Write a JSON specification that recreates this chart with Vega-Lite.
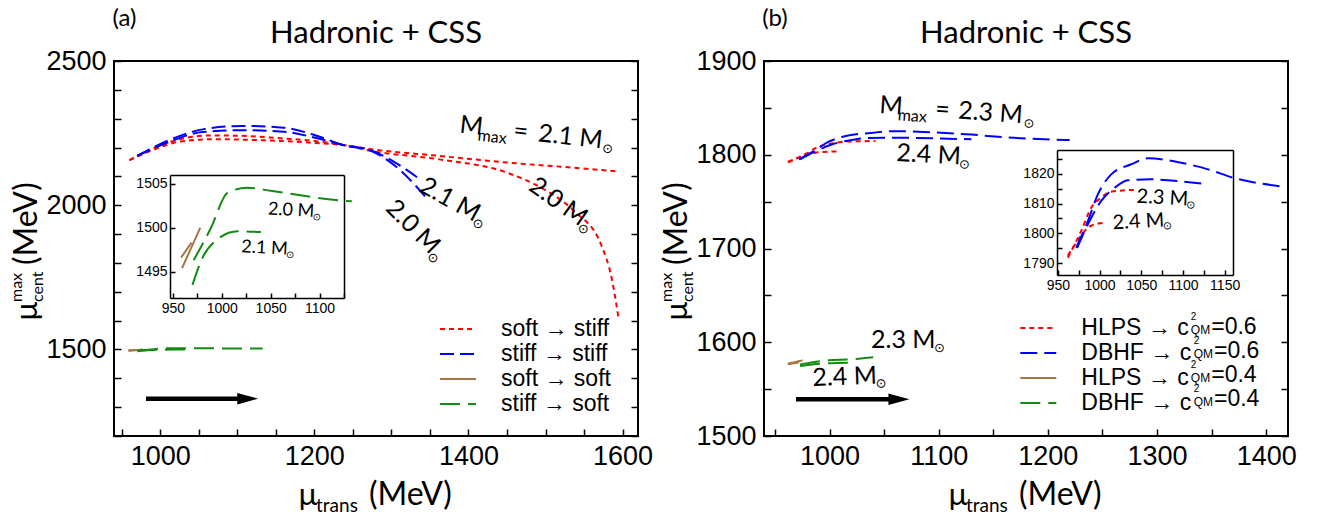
{
  "$schema": "https://vega.github.io/schema/vega-lite/v6.json",
  "background": "white",
  "padding": {"left": 8, "top": 6, "right": 5, "bottom": 5},
  "config": {
    "view": {"stroke": "black", "strokeWidth": 2},
    "axis": {"grid": false, "labelFont": "Liberation Sans", "labelColor": "black", "tickColor": "black", "domainColor": "black", "tickWidth": 1.5, "domainWidth": 1.5, "labelFlush": false, "labelOverlap": false},
    "legend": {"labelFont": "Liberation Sans", "labelColor": "black"}
  },
  "datasets": {
    "a": [
      {"s": "soft → stiff", "m": "2.0", "x": 960, "y": 2156},
      {"s": "soft → stiff", "m": "2.0", "x": 993, "y": 2200},
      {"s": "soft → stiff", "m": "2.0", "x": 1024, "y": 2228},
      {"s": "soft → stiff", "m": "2.0", "x": 1068, "y": 2242},
      {"s": "soft → stiff", "m": "2.0", "x": 1112, "y": 2240},
      {"s": "soft → stiff", "m": "2.0", "x": 1156, "y": 2232},
      {"s": "soft → stiff", "m": "2.0", "x": 1200, "y": 2223},
      {"s": "soft → stiff", "m": "2.0", "x": 1237, "y": 2209},
      {"s": "soft → stiff", "m": "2.0", "x": 1274, "y": 2188},
      {"s": "soft → stiff", "m": "2.0", "x": 1362, "y": 2159},
      {"s": "soft → stiff", "m": "2.0", "x": 1450, "y": 2113},
      {"s": "soft → stiff", "m": "2.0", "x": 1494, "y": 2061},
      {"s": "soft → stiff", "m": "2.0", "x": 1537, "y": 1980},
      {"s": "soft → stiff", "m": "2.0", "x": 1572, "y": 1864},
      {"s": "soft → stiff", "m": "2.0", "x": 1586, "y": 1745},
      {"s": "soft → stiff", "m": "2.0", "x": 1595, "y": 1604},
      {"s": "soft → stiff", "m": "2.1", "x": 960, "y": 2156},
      {"s": "soft → stiff", "m": "2.1", "x": 993, "y": 2194},
      {"s": "soft → stiff", "m": "2.1", "x": 1024, "y": 2220},
      {"s": "soft → stiff", "m": "2.1", "x": 1068, "y": 2229},
      {"s": "soft → stiff", "m": "2.1", "x": 1112, "y": 2227},
      {"s": "soft → stiff", "m": "2.1", "x": 1156, "y": 2223},
      {"s": "soft → stiff", "m": "2.1", "x": 1200, "y": 2216},
      {"s": "soft → stiff", "m": "2.1", "x": 1237, "y": 2209},
      {"s": "soft → stiff", "m": "2.1", "x": 1274, "y": 2194},
      {"s": "soft → stiff", "m": "2.1", "x": 1362, "y": 2171},
      {"s": "soft → stiff", "m": "2.1", "x": 1450, "y": 2148},
      {"s": "soft → stiff", "m": "2.1", "x": 1537, "y": 2130},
      {"s": "soft → stiff", "m": "2.1", "x": 1595, "y": 2117},
      {"s": "stiff → stiff", "m": "2.0", "x": 970, "y": 2171},
      {"s": "stiff → stiff", "m": "2.0", "x": 1011, "y": 2225},
      {"s": "stiff → stiff", "m": "2.0", "x": 1055, "y": 2263},
      {"s": "stiff → stiff", "m": "2.0", "x": 1107, "y": 2275},
      {"s": "stiff → stiff", "m": "2.0", "x": 1160, "y": 2269},
      {"s": "stiff → stiff", "m": "2.0", "x": 1204, "y": 2240},
      {"s": "stiff → stiff", "m": "2.0", "x": 1237, "y": 2209},
      {"s": "stiff → stiff", "m": "2.0", "x": 1274, "y": 2188},
      {"s": "stiff → stiff", "m": "2.0", "x": 1305, "y": 2136},
      {"s": "stiff → stiff", "m": "2.0", "x": 1344, "y": 2030},
      {"s": "stiff → stiff", "m": "2.1", "x": 970, "y": 2171},
      {"s": "stiff → stiff", "m": "2.1", "x": 1011, "y": 2219},
      {"s": "stiff → stiff", "m": "2.1", "x": 1055, "y": 2254},
      {"s": "stiff → stiff", "m": "2.1", "x": 1107, "y": 2260},
      {"s": "stiff → stiff", "m": "2.1", "x": 1160, "y": 2255},
      {"s": "stiff → stiff", "m": "2.1", "x": 1204, "y": 2232},
      {"s": "stiff → stiff", "m": "2.1", "x": 1237, "y": 2209},
      {"s": "stiff → stiff", "m": "2.1", "x": 1274, "y": 2190},
      {"s": "stiff → stiff", "m": "2.1", "x": 1305, "y": 2148},
      {"s": "stiff → stiff", "m": "2.1", "x": 1338, "y": 2088},
      {"s": "soft → soft", "m": "2.0", "x": 959.3, "y": 1495.4},
      {"s": "soft → soft", "m": "2.0", "x": 978, "y": 1500},
      {"s": "soft → soft", "m": "2.1", "x": 958.3, "y": 1496.6},
      {"s": "soft → soft", "m": "2.1", "x": 969, "y": 1498.3},
      {"s": "stiff → soft", "m": "2.0", "x": 971.2, "y": 1496.3},
      {"s": "stiff → soft", "m": "2.0", "x": 989, "y": 1500},
      {"s": "stiff → soft", "m": "2.0", "x": 1006, "y": 1504},
      {"s": "stiff → soft", "m": "2.0", "x": 1026, "y": 1504.55},
      {"s": "stiff → soft", "m": "2.0", "x": 1050, "y": 1504.2},
      {"s": "stiff → soft", "m": "2.0", "x": 1074, "y": 1503.8},
      {"s": "stiff → soft", "m": "2.0", "x": 1098, "y": 1503.4},
      {"s": "stiff → soft", "m": "2.0", "x": 1122, "y": 1503.1},
      {"s": "stiff → soft", "m": "2.0", "x": 1133, "y": 1503},
      {"s": "stiff → soft", "m": "2.1", "x": 970, "y": 1493.5},
      {"s": "stiff → soft", "m": "2.1", "x": 980.3, "y": 1496.6},
      {"s": "stiff → soft", "m": "2.1", "x": 995.8, "y": 1498.7},
      {"s": "stiff → soft", "m": "2.1", "x": 1016.2, "y": 1499.6},
      {"s": "stiff → soft", "m": "2.1", "x": 1040, "y": 1499.5}
    ],
    "b": [
      {"s": "HLPS 0.6", "m": "2.3", "x": 962, "y": 1791.8},
      {"s": "HLPS 0.6", "m": "2.3", "x": 978, "y": 1800.8},
      {"s": "HLPS 0.6", "m": "2.3", "x": 990, "y": 1808.6},
      {"s": "HLPS 0.6", "m": "2.3", "x": 1002, "y": 1812},
      {"s": "HLPS 0.6", "m": "2.3", "x": 1014, "y": 1814},
      {"s": "HLPS 0.6", "m": "2.3", "x": 1042, "y": 1814.6},
      {"s": "HLPS 0.6", "m": "2.4", "x": 962, "y": 1792.5},
      {"s": "HLPS 0.6", "m": "2.4", "x": 976, "y": 1798.5},
      {"s": "HLPS 0.6", "m": "2.4", "x": 986, "y": 1801.9},
      {"s": "HLPS 0.6", "m": "2.4", "x": 994, "y": 1803},
      {"s": "HLPS 0.6", "m": "2.4", "x": 1008, "y": 1803.6},
      {"s": "DBHF 0.6", "m": "2.3", "x": 972, "y": 1795.2},
      {"s": "DBHF 0.6", "m": "2.3", "x": 986, "y": 1804.1},
      {"s": "DBHF 0.6", "m": "2.3", "x": 998, "y": 1813.1},
      {"s": "DBHF 0.6", "m": "2.3", "x": 1014, "y": 1819.8},
      {"s": "DBHF 0.6", "m": "2.3", "x": 1038, "y": 1823.2},
      {"s": "DBHF 0.6", "m": "2.3", "x": 1058, "y": 1825.2},
      {"s": "DBHF 0.6", "m": "2.3", "x": 1098, "y": 1823.7},
      {"s": "DBHF 0.6", "m": "2.3", "x": 1130, "y": 1821.5},
      {"s": "DBHF 0.6", "m": "2.3", "x": 1160, "y": 1818.7},
      {"s": "DBHF 0.6", "m": "2.3", "x": 1220, "y": 1815.7},
      {"s": "DBHF 0.6", "m": "2.4", "x": 973, "y": 1795},
      {"s": "DBHF 0.6", "m": "2.4", "x": 986, "y": 1803},
      {"s": "DBHF 0.6", "m": "2.4", "x": 1002, "y": 1810.9},
      {"s": "DBHF 0.6", "m": "2.4", "x": 1018, "y": 1815.3},
      {"s": "DBHF 0.6", "m": "2.4", "x": 1034, "y": 1817.8},
      {"s": "DBHF 0.6", "m": "2.4", "x": 1062, "y": 1818.2},
      {"s": "DBHF 0.6", "m": "2.4", "x": 1078, "y": 1817.9},
      {"s": "DBHF 0.6", "m": "2.4", "x": 1130, "y": 1816.5},
      {"s": "HLPS 0.4", "m": "2.3", "x": 961.7, "y": 1577.1},
      {"s": "HLPS 0.4", "m": "2.3", "x": 975.4, "y": 1580.7},
      {"s": "HLPS 0.4", "m": "2.4", "x": 962, "y": 1576.5},
      {"s": "HLPS 0.4", "m": "2.4", "x": 972, "y": 1578.5},
      {"s": "DBHF 0.4", "m": "2.3", "x": 973, "y": 1576.4},
      {"s": "DBHF 0.4", "m": "2.3", "x": 998, "y": 1580.7},
      {"s": "DBHF 0.4", "m": "2.3", "x": 1020, "y": 1581.8},
      {"s": "DBHF 0.4", "m": "2.3", "x": 1040, "y": 1584},
      {"s": "DBHF 0.4", "m": "2.4", "x": 973, "y": 1574.7},
      {"s": "DBHF 0.4", "m": "2.4", "x": 998, "y": 1577.5},
      {"s": "DBHF 0.4", "m": "2.4", "x": 1020, "y": 1578.2}
    ]
  },
  "bounds": "flush",
  "spacing": 126,
  "resolve": {
    "scale": {"color": "independent", "strokeDash": "independent", "strokeWidth": "independent"},
    "legend": {"color": "independent", "strokeDash": "independent", "strokeWidth": "independent"}
  },
  "hconcat": [
    {
      "width": 524,
      "height": 375,
      "resolve": {"scale": {"x": "independent", "y": "independent"}},
      "layer": [
        {
          "data": {"values": [{}]},
          "resolve": {"axis": {"x": "independent", "y": "independent"}},
          "layer": [
            {
              "data": {"name": "a"},
              "mark": {"type": "line", "interpolate": "monotone"},
              "encoding": {
                "x": {"field": "x", "type": "quantitative", "scale": {"domain": [940, 1620], "nice": false, "zero": false},
                  "axis": {"orient": "bottom", "title": null, "values": [1000, 1200, 1400, 1600], "format": "d", "labelOverlap": false, "tickSize": -7, "labelPadding": 14, "labelFontSize": 27, "domain": false}},
                "y": {"field": "y", "type": "quantitative", "scale": {"domain": [1200, 2500], "nice": false, "zero": false},
                  "axis": {"orient": "left", "title": null, "values": [1200, 1300, 1400, 1500, 1600, 1700, 1800, 1900, 2000, 2100, 2200, 2300, 2400, 2500], "format": "d", "labelExpr": "datum.value % 500 === 0 ? datum.label : ''", "labelOverlap": false, "tickSize": -7, "labelPadding": 15, "labelFontSize": 27, "domain": false}},
                "color": {"field": "s", "type": "nominal",
                  "scale": {"domain": ["soft → stiff", "stiff → stiff", "soft → soft", "stiff → soft"], "range": ["#ff0000", "#0000ff", "#a57647", "#118b11"]},
                  "legend": {"orient": "none", "legendX": 331, "legendY": 255, "title": null, "symbolType": "M-1.5,0H1.5", "symbolSize": 576, "labelFontSize": 23, "labelOffset": 30, "padding": 0, "rowPadding": 0}},
                "strokeDash": {"field": "s", "type": "nominal",
                  "scale": {"domain": ["soft → stiff", "stiff → stiff", "soft → soft", "stiff → soft"], "range": [[5, 4], [14, 6], [1, 0], [20, 8]]}},
                "strokeWidth": {"field": "s", "type": "ordinal",
                  "scale": {"domain": ["soft → stiff", "stiff → stiff", "soft → soft", "stiff → soft"], "range": [2, 2, 3.5, 2.5]}},
                "detail": {"field": "m"}
              }
            },
            {
              "mark": {"type": "rule", "strokeWidth": 4.5, "color": "black"},
              "encoding": {
                "x": {"datum": 981.5, "axis": {"orient": "bottom", "title": null, "values": [950, 1050, 1100, 1150, 1250, 1300, 1350, 1450, 1500, 1550], "labels": false, "tickSize": -7, "domain": false}},
                "x2": {"datum": 1113.6},
                "y": {"datum": 1329.4, "axis": {"orient": "right", "title": null, "values": [1200, 1300, 1400, 1500, 1600, 1700, 1800, 1900, 2000, 2100, 2200, 2300, 2400, 2500], "labels": false, "tickSize": -7, "domain": false}}
              }
            },
            {
              "mark": {"type": "point", "shape": "M-1,-0.55L1,0L-1,0.55Z", "size": 441, "filled": true, "color": "black", "opacity": 1},
              "encoding": {"x": {"datum": 1113.6, "axis": null}, "y": {"datum": 1329.4, "axis": null}}
            },
            {"mark": {"type": "text", "text": "Hadronic + CSS", "font": "Lato", "fontSize": 31, "align": "center", "baseline": "alphabetic", "color": "black"},
             "encoding": {"x": {"datum": 1280, "axis": null}, "y": {"datum": 2562.4, "axis": null}}},
            {"mark": {"type": "text", "text": "(a)", "font": "Lato", "fontSize": 24, "align": "center", "baseline": "alphabetic", "color": "black"},
             "encoding": {"x": {"datum": 953.5, "axis": null}, "y": {"datum": 2621.3, "axis": null}}},
            {"mark": {"type": "text", "text": "µ", "font": "Lato", "fontSize": 31, "align": "left", "baseline": "alphabetic", "color": "black"},
             "encoding": {"x": {"datum": 1178.8, "axis": null}, "y": {"datum": 960.8, "axis": null}}},
            {"mark": {"type": "text", "text": "trans", "font": "Lato", "fontSize": 19, "align": "left", "baseline": "alphabetic", "dx": 18, "dy": 7, "color": "black"},
             "encoding": {"x": {"datum": 1178.8, "axis": null}, "y": {"datum": 960.8, "axis": null}}},
            {"mark": {"type": "text", "text": "(MeV)", "font": "Lato", "fontSize": 32, "align": "left", "baseline": "alphabetic", "dx": 71, "color": "black"},
             "encoding": {"x": {"datum": 1178.8, "axis": null}, "y": {"datum": 960.8, "axis": null}}},
            {"mark": {"type": "text", "text": "µ", "font": "Lato", "fontSize": 31, "align": "left", "baseline": "alphabetic", "angle": 270, "color": "black"},
             "encoding": {"x": {"datum": 840.1, "axis": null}, "y": {"datum": 1598.7, "axis": null}}},
            {"mark": {"type": "text", "text": "cent", "font": "Lato", "fontSize": 16, "align": "left", "baseline": "alphabetic", "angle": 270, "dx": 19, "dy": 6, "color": "black"},
             "encoding": {"x": {"datum": 840.1, "axis": null}, "y": {"datum": 1598.7, "axis": null}}},
            {"mark": {"type": "text", "text": "max", "font": "Lato", "fontSize": 16, "align": "left", "baseline": "alphabetic", "angle": 270, "dx": 19, "dy": -15, "color": "black"},
             "encoding": {"x": {"datum": 840.1, "axis": null}, "y": {"datum": 1598.7, "axis": null}}},
            {"mark": {"type": "text", "text": "(MeV)", "font": "Lato", "fontSize": 32, "align": "left", "baseline": "alphabetic", "angle": 270, "dx": 56, "color": "black"},
             "encoding": {"x": {"datum": 840.1, "axis": null}, "y": {"datum": 1598.7, "axis": null}}},
            {"mark": {"type": "text", "text": "M", "font": "Lato", "fontSize": 25, "align": "left", "baseline": "alphabetic", "angle": 6.3, "color": "black"},
             "encoding": {"x": {"datum": 1387.7, "axis": null}, "y": {"datum": 2252, "axis": null}}},
            {"mark": {"type": "text", "text": "max", "font": "Lato", "fontSize": 16, "align": "left", "baseline": "alphabetic", "angle": 6.3, "dx": 19, "dy": 6, "color": "black"},
             "encoding": {"x": {"datum": 1387.7, "axis": null}, "y": {"datum": 2252, "axis": null}}},
            {"mark": {"type": "text", "text": "=", "font": "Lato", "fontSize": 25, "align": "left", "baseline": "alphabetic", "angle": 6.3, "dx": 54, "color": "black"},
             "encoding": {"x": {"datum": 1387.7, "axis": null}, "y": {"datum": 2252, "axis": null}}},
            {"mark": {"type": "text", "text": "2.1 M", "font": "Lato", "fontSize": 25, "align": "left", "baseline": "alphabetic", "angle": 6.3, "dx": 79, "color": "black"},
             "encoding": {"x": {"datum": 1387.7, "axis": null}, "y": {"datum": 2252, "axis": null}}},
            {"mark": {"type": "text", "text": "⊙", "font": "DejaVu Sans", "fontSize": 13, "align": "left", "baseline": "alphabetic", "angle": 6.3, "dx": 144, "dy": 4, "color": "black"},
             "encoding": {"x": {"datum": 1387.7, "axis": null}, "y": {"datum": 2252, "axis": null}}},
            {"mark": {"type": "text", "text": "2.1 M", "font": "Lato", "fontSize": 25, "align": "left", "baseline": "alphabetic", "angle": 29, "color": "black"},
             "encoding": {"x": {"datum": 1334.5, "axis": null}, "y": {"datum": 2050, "axis": null}}},
            {"mark": {"type": "text", "text": "⊙", "font": "DejaVu Sans", "fontSize": 13, "align": "left", "baseline": "alphabetic", "angle": 29, "dx": 63, "dy": 4, "color": "black"},
             "encoding": {"x": {"datum": 1334.5, "axis": null}, "y": {"datum": 2050, "axis": null}}},
            {"mark": {"type": "text", "text": "2.0 M", "font": "Lato", "fontSize": 25, "align": "left", "baseline": "alphabetic", "angle": 45, "color": "black"},
             "encoding": {"x": {"datum": 1291, "axis": null}, "y": {"datum": 1985, "axis": null}}},
            {"mark": {"type": "text", "text": "⊙", "font": "DejaVu Sans", "fontSize": 13, "align": "left", "baseline": "alphabetic", "angle": 45, "dx": 63, "dy": 4, "color": "black"},
             "encoding": {"x": {"datum": 1291, "axis": null}, "y": {"datum": 1985, "axis": null}}},
            {"mark": {"type": "text", "text": "2.0 M", "font": "Lato", "fontSize": 25, "align": "left", "baseline": "alphabetic", "angle": 35.5, "color": "black"},
             "encoding": {"x": {"datum": 1476.5, "axis": null}, "y": {"datum": 2055, "axis": null}}},
            {"mark": {"type": "text", "text": "⊙", "font": "DejaVu Sans", "fontSize": 13, "align": "left", "baseline": "alphabetic", "angle": 35.5, "dx": 63, "dy": 4, "color": "black"},
             "encoding": {"x": {"datum": 1476.5, "axis": null}, "y": {"datum": 2055, "axis": null}}}
          ]
        },
        {
          "data": {"name": "a"},
          "transform": [{"filter": "datum.y < 1600"}],
          "resolve": {"axis": {"x": "independent", "y": "independent"}},
          "layer": [
            {
              "mark": {"type": "line", "interpolate": "monotone", "clip": true},
              "encoding": {
                "x": {"field": "x", "type": "quantitative", "scale": {"domain": [947, 1125], "range": [56, 230], "nice": false, "zero": false},
                  "axis": {"orient": "bottom", "offset": -138, "title": null, "values": [950, 975, 1000, 1025, 1050, 1075, 1100, 1125], "format": "d", "labelExpr": "datum.value % 50 === 0 ? datum.label : ''", "labelOverlap": false, "tickSize": -5, "labelPadding": 8, "labelFontSize": 14}},
                "y": {"field": "y", "type": "quantitative", "scale": {"domain": [1492, 1506], "range": [237, 114], "nice": false, "zero": false},
                  "axis": {"orient": "left", "offset": -56, "title": null, "values": [1495, 1500, 1505], "format": "d", "labelOverlap": false, "tickSize": -5, "labelPadding": 8, "labelFontSize": 14}},
                "color": {"field": "s", "type": "nominal", "legend": null},
                "strokeDash": {"field": "s", "type": "nominal", "legend": null},
                "strokeWidth": {"field": "s", "type": "ordinal", "legend": null},
                "detail": {"field": "m"}
              }
            },
            {"data": {"values": [{}]},
             "mark": {"type": "text", "text": "2.0 M", "font": "Lato", "fontSize": 18, "align": "left", "baseline": "alphabetic", "angle": 3, "color": "black"},
             "encoding": {
               "x": {"datum": 1046.9, "axis": {"orient": "top", "offset": -114, "title": null, "ticks": false, "labels": false}},
               "y": {"datum": 1501.5, "axis": {"orient": "right", "offset": -294, "title": null, "ticks": false, "labels": false}}}},
            {"data": {"values": [{}]},
             "mark": {"type": "text", "text": "⊙", "font": "DejaVu Sans", "fontSize": 10, "align": "left", "baseline": "alphabetic", "angle": 3, "dx": 45, "dy": 3, "color": "black"},
             "encoding": {"x": {"datum": 1046.9, "axis": null}, "y": {"datum": 1501.5, "axis": null}}},
            {"data": {"values": [{}]},
             "mark": {"type": "text", "text": "2.1 M", "font": "Lato", "fontSize": 18, "align": "left", "baseline": "alphabetic", "angle": 3, "color": "black"},
             "encoding": {"x": {"datum": 1019.6, "axis": null}, "y": {"datum": 1497.2, "axis": null}}},
            {"data": {"values": [{}]},
             "mark": {"type": "text", "text": "⊙", "font": "DejaVu Sans", "fontSize": 10, "align": "left", "baseline": "alphabetic", "angle": 3, "dx": 45, "dy": 3, "color": "black"},
             "encoding": {"x": {"datum": 1019.6, "axis": null}, "y": {"datum": 1497.2, "axis": null}}}
          ]
        }
      ]
    },
    {
      "width": 524,
      "height": 375,
      "resolve": {"scale": {"x": "independent", "y": "independent"}},
      "layer": [
        {
          "data": {"values": [{}]},
          "resolve": {"axis": {"x": "independent", "y": "independent"}},
          "layer": [
            {
              "data": {"name": "b"},
              "mark": {"type": "line", "interpolate": "monotone"},
              "encoding": {
                "x": {"field": "x", "type": "quantitative", "scale": {"domain": [940, 1420], "nice": false, "zero": false},
                  "axis": {"orient": "bottom", "title": null, "values": [1000, 1100, 1200, 1300, 1400], "format": "d", "labelOverlap": false, "tickSize": -7, "labelPadding": 14, "labelFontSize": 27, "domain": false}},
                "y": {"field": "y", "type": "quantitative", "scale": {"domain": [1500, 1900], "nice": false, "zero": false},
                  "axis": {"orient": "left", "title": null, "values": [1500, 1550, 1600, 1650, 1700, 1750, 1800, 1850, 1900], "format": "d", "labelExpr": "datum.value % 100 === 0 ? datum.label : ''", "labelOverlap": false, "tickSize": -7, "labelPadding": 15, "labelFontSize": 27, "domain": false}},
                "color": {"field": "s", "type": "nominal",
                  "scale": {"domain": ["HLPS 0.6", "DBHF 0.6", "HLPS 0.4", "DBHF 0.4"], "range": ["#ff0000", "#0000ff", "#a57647", "#118b11"]},
                  "legend": {"orient": "none", "legendX": 261.3, "legendY": 254, "title": null, "symbolType": "M-1.5,0H1.5", "symbolSize": 576, "labelFontSize": 23, "labelOffset": 30, "padding": 0, "rowPadding": 0, "labelExpr": "slice(datum.label, 0, 4) + ' → c'"}},
                "strokeDash": {"field": "s", "type": "nominal",
                  "scale": {"domain": ["HLPS 0.6", "DBHF 0.6", "HLPS 0.4", "DBHF 0.4"], "range": [[5, 4], [17, 7], [1, 0], [20, 8]]}},
                "strokeWidth": {"field": "s", "type": "ordinal",
                  "scale": {"domain": ["HLPS 0.6", "DBHF 0.6", "HLPS 0.4", "DBHF 0.4"], "range": [2, 2, 3.5, 2.5]}},
                "detail": {"field": "m"}
              }
            },
            {
              "mark": {"type": "rule", "strokeWidth": 4.5, "color": "black"},
              "encoding": {
                "x": {"datum": 969.3, "axis": {"orient": "bottom", "title": null, "values": [950, 1050, 1150, 1250, 1350], "labels": false, "tickSize": -7, "domain": false}},
                "x2": {"datum": 1063.6},
                "y": {"datum": 1539.1, "axis": {"orient": "right", "title": null, "values": [1500, 1550, 1600, 1650, 1700, 1750, 1800, 1850, 1900], "labels": false, "tickSize": -7, "domain": false}}
              }
            },
            {
              "mark": {"type": "point", "shape": "M-1,-0.55L1,0L-1,0.55Z", "size": 441, "filled": true, "color": "black", "opacity": 1},
              "encoding": {"x": {"datum": 1063.6, "axis": null}, "y": {"datum": 1539.1, "axis": null}}
            },
            {"mark": {"type": "text", "text": "Hadronic + CSS", "font": "Lato", "fontSize": 31, "align": "center", "baseline": "alphabetic", "color": "black"},
             "encoding": {"x": {"datum": 1180, "axis": null}, "y": {"datum": 1919.2, "axis": null}}},
            {"mark": {"type": "text", "text": "(b)", "font": "Lato", "fontSize": 24, "align": "center", "baseline": "alphabetic", "color": "black"},
             "encoding": {"x": {"datum": 950, "axis": null}, "y": {"datum": 1937.3, "axis": null}}},
            {"mark": {"type": "text", "text": "µ", "font": "Lato", "fontSize": 31, "align": "left", "baseline": "alphabetic", "color": "black"},
             "encoding": {"x": {"datum": 1108.5, "axis": null}, "y": {"datum": 1426.4, "axis": null}}},
            {"mark": {"type": "text", "text": "trans", "font": "Lato", "fontSize": 19, "align": "left", "baseline": "alphabetic", "dx": 18, "dy": 7, "color": "black"},
             "encoding": {"x": {"datum": 1108.5, "axis": null}, "y": {"datum": 1426.4, "axis": null}}},
            {"mark": {"type": "text", "text": "(MeV)", "font": "Lato", "fontSize": 32, "align": "left", "baseline": "alphabetic", "dx": 71, "color": "black"},
             "encoding": {"x": {"datum": 1108.5, "axis": null}, "y": {"datum": 1426.4, "axis": null}}},
            {"mark": {"type": "text", "text": "µ", "font": "Lato", "fontSize": 31, "align": "left", "baseline": "alphabetic", "angle": 270, "color": "black"},
             "encoding": {"x": {"datum": 869.5, "axis": null}, "y": {"datum": 1622.7, "axis": null}}},
            {"mark": {"type": "text", "text": "cent", "font": "Lato", "fontSize": 16, "align": "left", "baseline": "alphabetic", "angle": 270, "dx": 19, "dy": 6, "color": "black"},
             "encoding": {"x": {"datum": 869.5, "axis": null}, "y": {"datum": 1622.7, "axis": null}}},
            {"mark": {"type": "text", "text": "max", "font": "Lato", "fontSize": 16, "align": "left", "baseline": "alphabetic", "angle": 270, "dx": 19, "dy": -15, "color": "black"},
             "encoding": {"x": {"datum": 869.5, "axis": null}, "y": {"datum": 1622.7, "axis": null}}},
            {"mark": {"type": "text", "text": "(MeV)", "font": "Lato", "fontSize": 32, "align": "left", "baseline": "alphabetic", "angle": 270, "dx": 56, "color": "black"},
             "encoding": {"x": {"datum": 869.5, "axis": null}, "y": {"datum": 1622.7, "axis": null}}},
            {"mark": {"type": "text", "text": "M", "font": "Lato", "fontSize": 25, "align": "left", "baseline": "alphabetic", "angle": 4, "color": "black"},
             "encoding": {"x": {"datum": 1045.3, "axis": null}, "y": {"datum": 1844.5, "axis": null}}},
            {"mark": {"type": "text", "text": "max", "font": "Lato", "fontSize": 16, "align": "left", "baseline": "alphabetic", "angle": 4, "dx": 19, "dy": 6, "color": "black"},
             "encoding": {"x": {"datum": 1045.3, "axis": null}, "y": {"datum": 1844.5, "axis": null}}},
            {"mark": {"type": "text", "text": "=", "font": "Lato", "fontSize": 25, "align": "left", "baseline": "alphabetic", "angle": 4, "dx": 56, "color": "black"},
             "encoding": {"x": {"datum": 1045.3, "axis": null}, "y": {"datum": 1844.5, "axis": null}}},
            {"mark": {"type": "text", "text": "2.3 M", "font": "Lato", "fontSize": 25, "align": "left", "baseline": "alphabetic", "angle": 4, "dx": 79, "color": "black"},
             "encoding": {"x": {"datum": 1045.3, "axis": null}, "y": {"datum": 1844.5, "axis": null}}},
            {"mark": {"type": "text", "text": "⊙", "font": "DejaVu Sans", "fontSize": 13, "align": "left", "baseline": "alphabetic", "angle": 4, "dx": 145, "dy": 4, "color": "black"},
             "encoding": {"x": {"datum": 1045.3, "axis": null}, "y": {"datum": 1844.5, "axis": null}}},
            {"mark": {"type": "text", "text": "2.4 M", "font": "Lato", "fontSize": 25, "align": "left", "baseline": "alphabetic", "angle": 3, "color": "black"},
             "encoding": {"x": {"datum": 1060.9, "axis": null}, "y": {"datum": 1793.3, "axis": null}}},
            {"mark": {"type": "text", "text": "⊙", "font": "DejaVu Sans", "fontSize": 13, "align": "left", "baseline": "alphabetic", "angle": 3, "dx": 63, "dy": 4, "color": "black"},
             "encoding": {"x": {"datum": 1060.9, "axis": null}, "y": {"datum": 1793.3, "axis": null}}},
            {"mark": {"type": "text", "text": "2.3 M", "font": "Lato", "fontSize": 25, "align": "left", "baseline": "alphabetic", "color": "black"},
             "encoding": {"x": {"datum": 1038, "axis": null}, "y": {"datum": 1594.2, "axis": null}}},
            {"mark": {"type": "text", "text": "⊙", "font": "DejaVu Sans", "fontSize": 13, "align": "left", "baseline": "alphabetic", "dx": 63, "dy": 4, "color": "black"},
             "encoding": {"x": {"datum": 1038, "axis": null}, "y": {"datum": 1594.2, "axis": null}}},
            {"mark": {"type": "text", "text": "2.4 M", "font": "Lato", "fontSize": 25, "align": "left", "baseline": "alphabetic", "angle": 358, "color": "black"},
             "encoding": {"x": {"datum": 984.6, "axis": null}, "y": {"datum": 1553.3, "axis": null}}},
            {"mark": {"type": "text", "text": "⊙", "font": "DejaVu Sans", "fontSize": 13, "align": "left", "baseline": "alphabetic", "angle": 358, "dx": 63, "dy": 4, "color": "black"},
             "encoding": {"x": {"datum": 984.6, "axis": null}, "y": {"datum": 1553.3, "axis": null}}},
            {"mark": {"type": "text", "text": "2", "font": "Liberation Sans", "fontSize": 10, "align": "left", "baseline": "middle", "dy": -10, "color": "black"},
             "encoding": {"x": {"datum": 1331, "axis": null}, "y": {"datum": 1616.3, "axis": null}}},
            {"mark": {"type": "text", "text": "QM", "font": "Liberation Sans", "fontSize": 12, "align": "left", "baseline": "middle", "dy": 3, "color": "black"},
             "encoding": {"x": {"datum": 1331, "axis": null}, "y": {"datum": 1616.3, "axis": null}}},
            {"mark": {"type": "text", "text": "=0.6", "font": "Liberation Sans", "fontSize": 23, "align": "left", "baseline": "middle", "color": "black"},
             "encoding": {"x": {"datum": 1349.7, "axis": null}, "y": {"datum": 1616.3, "axis": null}}},
            {"mark": {"type": "text", "text": "2", "font": "Liberation Sans", "fontSize": 10, "align": "left", "baseline": "middle", "dy": -10, "color": "black"},
             "encoding": {"x": {"datum": 1333.7, "axis": null}, "y": {"datum": 1590.7, "axis": null}}},
            {"mark": {"type": "text", "text": "QM", "font": "Liberation Sans", "fontSize": 12, "align": "left", "baseline": "middle", "dy": 3, "color": "black"},
             "encoding": {"x": {"datum": 1333.7, "axis": null}, "y": {"datum": 1590.7, "axis": null}}},
            {"mark": {"type": "text", "text": "=0.6", "font": "Liberation Sans", "fontSize": 23, "align": "left", "baseline": "middle", "color": "black"},
             "encoding": {"x": {"datum": 1352.2, "axis": null}, "y": {"datum": 1590.7, "axis": null}}},
            {"mark": {"type": "text", "text": "2", "font": "Liberation Sans", "fontSize": 10, "align": "left", "baseline": "middle", "dy": -10, "color": "black"},
             "encoding": {"x": {"datum": 1331, "axis": null}, "y": {"datum": 1565.1, "axis": null}}},
            {"mark": {"type": "text", "text": "QM", "font": "Liberation Sans", "fontSize": 12, "align": "left", "baseline": "middle", "dy": 3, "color": "black"},
             "encoding": {"x": {"datum": 1331, "axis": null}, "y": {"datum": 1565.1, "axis": null}}},
            {"mark": {"type": "text", "text": "=0.4", "font": "Liberation Sans", "fontSize": 23, "align": "left", "baseline": "middle", "color": "black"},
             "encoding": {"x": {"datum": 1349.7, "axis": null}, "y": {"datum": 1565.1, "axis": null}}},
            {"mark": {"type": "text", "text": "2", "font": "Liberation Sans", "fontSize": 10, "align": "left", "baseline": "middle", "dy": -10, "color": "black"},
             "encoding": {"x": {"datum": 1333.7, "axis": null}, "y": {"datum": 1539.5, "axis": null}}},
            {"mark": {"type": "text", "text": "QM", "font": "Liberation Sans", "fontSize": 12, "align": "left", "baseline": "middle", "dy": 3, "color": "black"},
             "encoding": {"x": {"datum": 1333.7, "axis": null}, "y": {"datum": 1539.5, "axis": null}}},
            {"mark": {"type": "text", "text": "=0.4", "font": "Liberation Sans", "fontSize": 23, "align": "left", "baseline": "middle", "color": "black"},
             "encoding": {"x": {"datum": 1352.2, "axis": null}, "y": {"datum": 1539.5, "axis": null}}}
          ]
        },
        {
          "data": {"name": "b"},
          "transform": [{"filter": "datum.y > 1700"}],
          "resolve": {"axis": {"x": "independent", "y": "independent"}},
          "layer": [
            {
              "mark": {"type": "line", "interpolate": "monotone", "clip": true},
              "encoding": {
                "x": {"field": "x", "type": "quantitative", "scale": {"domain": [949, 1160], "range": [293, 469], "nice": false, "zero": false},
                  "axis": {"orient": "bottom", "offset": -161, "title": null, "values": [950, 975, 1000, 1025, 1050, 1075, 1100, 1125, 1150], "format": "d", "labelExpr": "datum.value % 50 === 0 ? datum.label : ''", "labelOverlap": false, "tickSize": -5, "labelPadding": 8, "labelFontSize": 14}},
                "y": {"field": "y", "type": "quantitative", "scale": {"domain": [1786, 1828], "range": [214, 89], "nice": false, "zero": false},
                  "axis": {"orient": "left", "offset": -293, "title": null, "values": [1790, 1795, 1800, 1805, 1810, 1815, 1820, 1825], "format": "d", "labelExpr": "datum.value % 10 === 0 ? datum.label : ''", "labelOverlap": false, "tickSize": -5, "labelPadding": 8, "labelFontSize": 14}},
                "color": {"field": "s", "type": "nominal", "legend": null},
                "strokeDash": {"field": "s", "type": "nominal", "legend": null},
                "strokeWidth": {"field": "s", "type": "ordinal", "legend": null},
                "detail": {"field": "m"}
              }
            },
            {"data": {"values": [{}]},
             "mark": {"type": "text", "text": "2.3 M", "font": "Lato", "fontSize": 20, "align": "left", "baseline": "alphabetic", "angle": 3, "color": "black"},
             "encoding": {
               "x": {"datum": 1044.1, "axis": {"orient": "top", "offset": -89, "title": null, "ticks": false, "labels": false}},
               "y": {"datum": 1810.3, "axis": {"orient": "right", "offset": -55, "title": null, "ticks": false, "labels": false}}}},
            {"data": {"values": [{}]},
             "mark": {"type": "text", "text": "⊙", "font": "DejaVu Sans", "fontSize": 11, "align": "left", "baseline": "alphabetic", "angle": 3, "dx": 50, "dy": 3, "color": "black"},
             "encoding": {"x": {"datum": 1044.1, "axis": null}, "y": {"datum": 1810.3, "axis": null}}},
            {"data": {"values": [{}]},
             "mark": {"type": "text", "text": "2.4 M", "font": "Lato", "fontSize": 20, "align": "left", "baseline": "alphabetic", "angle": 357, "color": "black"},
             "encoding": {"x": {"datum": 1016.1, "axis": null}, "y": {"datum": 1801.4, "axis": null}}},
            {"data": {"values": [{}]},
             "mark": {"type": "text", "text": "⊙", "font": "DejaVu Sans", "fontSize": 11, "align": "left", "baseline": "alphabetic", "angle": 357, "dx": 50, "dy": 3, "color": "black"},
             "encoding": {"x": {"datum": 1016.1, "axis": null}, "y": {"datum": 1801.4, "axis": null}}}
          ]
        }
      ]
    }
  ]
}
